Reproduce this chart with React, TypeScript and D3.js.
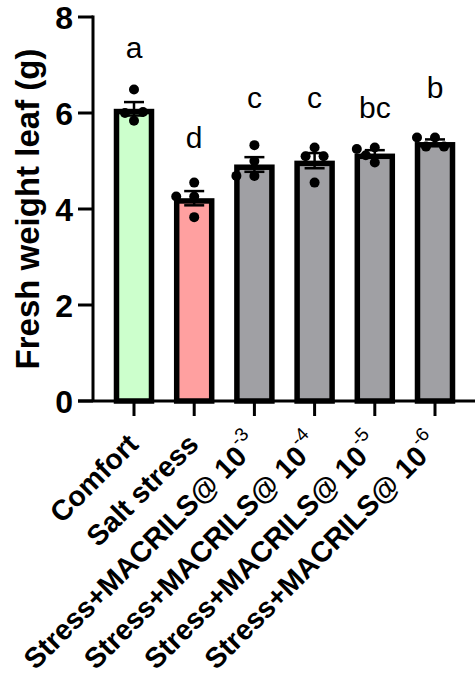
import * as d3 from 'd3';

const categories = ['Comfort', 'Salt stress', 'MACRILS3', 'MACRILS4', 'MACRILS5', 'MACRILS6'];
const labelMain = ['Comfort', 'Salt stress', 'Stress+MACRILS@ 10', 'Stress+MACRILS@ 10', 'Stress+MACRILS@ 10', 'Stress+MACRILS@ 10'];
const labelSup = ['', '', '-3', '-4', '-5', '-6'];
const colors = ['#CCFFCC', '#FFA0A0', '#A0A0A4', '#A0A0A4', '#A0A0A4', '#A0A0A4'];

// individual replicates
const replicates = [
    [6.49, 5.84, 6.0, 6.02],
    [4.55, 4.26, 4.26, 3.83],
    [5.33, 5.0, 4.69, 4.69],
    [5.28, 5.1, 5.1, 4.55],
    [5.28, 5.25, 5.12, 4.97],
    [5.49, 5.49, 5.3, 5.3],
];

// significance letters and the height (in g) they sit at
const letters = ['a', 'd', 'c', 'c', 'bc', 'b'];
const letterY = [7.15, 5.27, 6.1, 6.1, 5.9, 6.31];

const yTicks = [0, 2, 4, 6, 8];

const font = "Arial, 'Liberation Sans', sans-serif";

function App() {
    const width = 475;
    const height = 679;

    const x = d3.scalePoint()
    .domain(categories)
    .range([134, 435]);

    const y = d3.scaleLinear()
    .domain([0, 8])
    .range([401, 17]);

    const barW = 35;
    const sw = 5.5;
    const r = 5;

    const stats = replicates.map(vals => {
        const mean = d3.mean(vals);
        const sem = d3.deviation(vals) / Math.sqrt(vals.length);
        return { mean, sem };
    });

    // simple dodge so points at similar height don't sit on top of each other
    const dodge = (vals) => {
        const placed = [];
        const offsets = [0, -9, 9, -18, 18];
        return vals.map(v => {
            const py = y(v);
            let dx = 0;
            for (const o of offsets) {
                if (placed.every(p => Math.hypot(p.dx - o, p.py - py) > 2 * r)) { dx = o; break; }
            }
            placed.push({ dx, py });
            return { dx, py };
        });
    };

    return (
        <svg width={width} height={height} style={{ position: 'absolute', left: 0, top: 0, background: '#fff' }}>
            {/* bars, border drawn inside the bar */}
            {categories.map((c, i) => (
                <rect key={c}
                    x={x(c) - barW / 2}
                    y={y(stats[i].mean) + sw / 2}
                    width={barW}
                    height={y(0) - y(stats[i].mean) - sw / 2}
                    fill={colors[i]}
                    stroke="#000"
                    strokeWidth={sw} />
            ))}

            {/* error bars */}
            {categories.map((c, i) => {
                const cx = x(c);
                const top = y(stats[i].mean + stats[i].sem);
                const bot = y(stats[i].mean - stats[i].sem);
                return (
                    <g key={c} stroke="#000" strokeWidth={2.5}>
                        <line x1={cx} x2={cx} y1={top} y2={bot} />
                        <line x1={cx - 10} x2={cx + 10} y1={top} y2={top} />
                        <line x1={cx - 10} x2={cx + 10} y1={bot} y2={bot} />
                    </g>
                );
            })}

            {/* points */}
            {categories.map((c, i) => dodge(replicates[i]).map((p, j) => (
                <circle key={c + j} cx={x(c) + p.dx} cy={p.py} r={r} fill="#000" />
            )))}

            {/* letters */}
            {categories.map((c, i) => (
                <text key={c} x={x(c)} y={y(letterY[i])} textAnchor="middle"
                    fontFamily={font} fontSize={30}>{letters[i]}</text>
            ))}

            {/* y axis */}
            <line x1={93} x2={93} y1={y(8) - 1.5} y2={y(0)} stroke="#000" strokeWidth={3} />
            {yTicks.map(t => (
                <g key={t}>
                    <line x1={78} x2={93} y1={y(t)} y2={y(t)} stroke="#000" strokeWidth={3} />
                    <text x={73} y={y(t)} dy="0.36em" textAnchor="end"
                        fontFamily={font} fontWeight="bold" fontSize={32}>{t}</text>
                </g>
            ))}
            <text transform={`translate(39,209) rotate(-90)`} textAnchor="middle"
                fontFamily={font} fontWeight="bold" fontSize={33}>Fresh weight leaf (g)</text>

            {/* x axis */}
            <line x1={78} x2={475} y1={y(0)} y2={y(0)} stroke="#000" strokeWidth={3} />
            {categories.map((c, i) => (
                <g key={c}>
                    <line x1={x(c)} x2={x(c)} y1={y(0)} y2={y(0) + 15} stroke="#000" strokeWidth={3} />
                    <text transform={`translate(${x(c) + 6},${y(0) + 45}) rotate(-45)`} textAnchor="end"
                        fontFamily={font} fontWeight="bold" fontSize={28.5}>
                        <tspan>{labelMain[i]}</tspan>
                        {labelSup[i] && (
                            <tspan dy={-15} fontSize={19} fontWeight="normal">{labelSup[i]}</tspan>
                        )}
                    </text>
                </g>
            ))}
        </svg>
    );
}

export default App;
